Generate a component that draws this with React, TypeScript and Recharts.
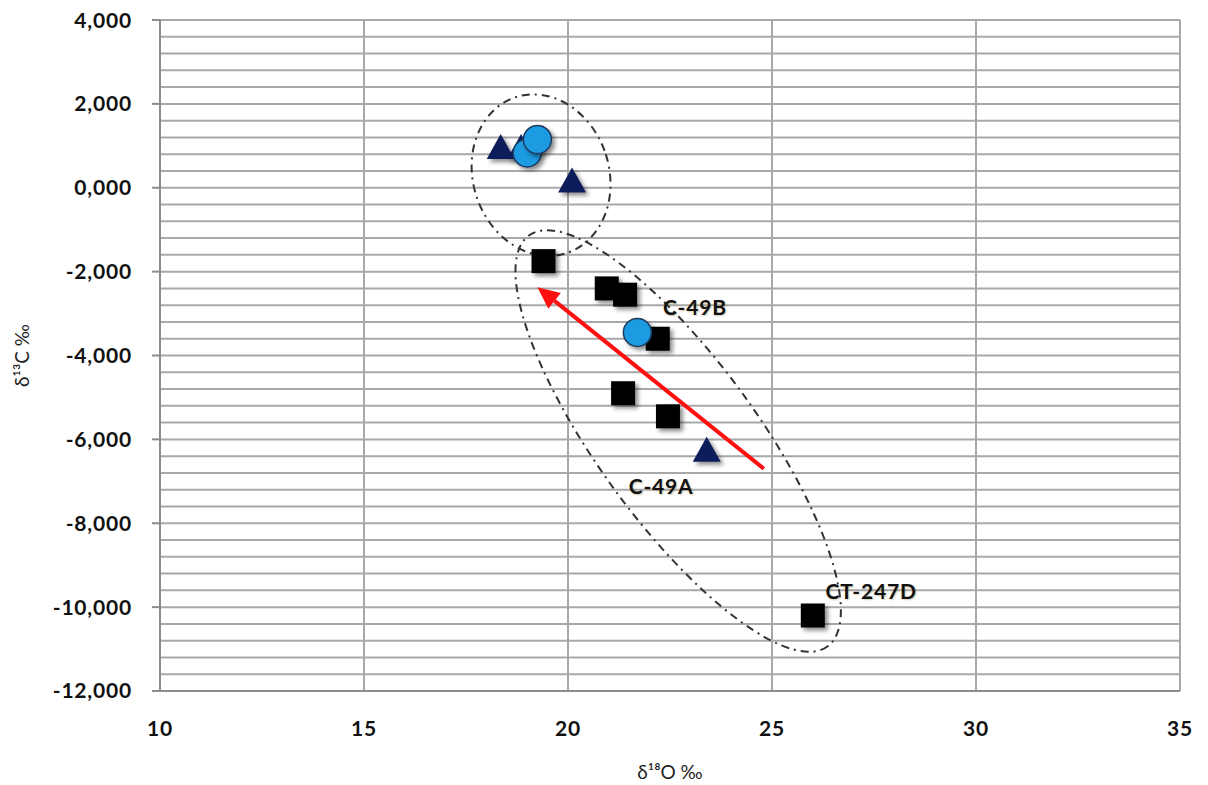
import React from "react";
import {
  CartesianGrid,
  ReferenceDot,
  ReferenceLine,
  Scatter,
  ScatterChart,
  XAxis,
  YAxis,
} from "recharts";

// δ18O / δ13C pairs, grouped by marker type
const squareSamples = [
  { x: 19.4, y: -1.75 },
  { x: 20.95, y: -2.4 },
  { x: 21.4, y: -2.55 },
  { x: 22.2, y: -3.6 },
  { x: 21.35, y: -4.9 },
  { x: 22.45, y: -5.45 },
  { x: 26.0, y: -10.2 },
];
const triangleSamples = [
  { x: 18.35, y: 0.97 },
  { x: 18.85, y: 0.97 },
  { x: 20.1, y: 0.17 },
  { x: 23.4, y: -6.25 },
];
const circleSamples = [
  { x: 19.0, y: 0.83 },
  { x: 19.25, y: 1.15 },
  { x: 21.7, y: -3.45 },
];

const xTicks = [10, 15, 20, 25, 30, 35];
const yTicks = [-12, -10, -8, -6, -4, -2, 0, 2, 4];
const Y_MIN = -12;
const Y_MAX = 4;
// minor horizontal grid every 0.4 ‰
const yGrid = Array.from({ length: 41 }, (_, i) => Y_MIN + i * 0.4);

const sampleLabels = [
  { x: 23.11, y: -2.82, text: "C-49B" },
  { x: 22.28, y: -7.11, text: "C-49A" },
  { x: 27.43, y: -9.61, text: "CT-247D" },
];

// trend arrow, tail -> head
const trendArrow = [
  { x: 24.8, y: -6.7 },
  { x: 19.25, y: -2.37 },
];

const FONT = "Lato, 'Open Sans', sans-serif";
const fmt = (v: number) => v.toFixed(3).replace(".", ",");

const SquareMark = (p: any) => (
  <rect x={p.cx - 12} y={p.cy - 12} width={24} height={24} fill="#000" filter="url(#mk-shadow)" />
);
const TriangleMark = (p: any) => (
  <polygon
    points={`${p.cx},${p.cy - 13} ${p.cx + 14},${p.cy + 12} ${p.cx - 14},${p.cy + 12}`}
    fill="#0f1f5a"
    filter="url(#mk-shadow)"
  />
);
const CircleMark = (p: any) => (
  <circle cx={p.cx} cy={p.cy} r={14} fill="#1e9be3" stroke="#1b3a5e" strokeWidth={1.5} filter="url(#mk-shadow)" />
);

const Arrow = (p: any) => {
  const { x1, y1, x2, y2 } = p;
  const ang = Math.atan2(y2 - y1, x2 - x1);
  const len = 22;
  const half = 10;
  const bx = x2 - len * Math.cos(ang);
  const by = y2 - len * Math.sin(ang);
  const nx = -Math.sin(ang) * half;
  const ny = Math.cos(ang) * half;
  return (
    <g>
      <line x1={x1} y1={y1} x2={bx} y2={by} stroke="#ff1010" strokeWidth={4} />
      <polygon points={`${x2},${y2} ${bx + nx},${by + ny} ${bx - nx},${by - ny}`} fill="#ff1010" />
    </g>
  );
};

const Envelope = (rx: number, ry: number, rot: number) => (p: any) => (
  <ellipse
    cx={p.cx}
    cy={p.cy}
    rx={rx}
    ry={ry}
    transform={`rotate(${rot} ${p.cx} ${p.cy})`}
    fill="none"
    stroke="#333"
    strokeWidth={2}
    strokeDasharray="8 5 2 5"
  />
);

const TextMark = (text: string) => (p: any) => (
  <text
    x={p.cx}
    y={p.cy}
    textAnchor="middle"
    dominantBaseline="central"
    fontFamily={FONT}
    fontWeight={700}
    fontSize={21}
    letterSpacing={0.8}
    fill="#111"
    style={{ textShadow: "1px 1px 2px rgba(120,100,20,0.35)" }}
  >
    {text}
  </text>
);

// pixel rows for the 0.4 ‰ grid lines
const gridRows = ({ offset }: any) =>
  yGrid.map((v) => offset.top + (offset.height * (Y_MAX - v)) / (Y_MAX - Y_MIN));

export default function App() {
  return (
    <div style={{ width: 1192, height: 777, background: "#fff" }}>
      <svg width={0} height={0} style={{ position: "absolute" }}>
        <defs>
          <filter id="mk-shadow" x="-40%" y="-40%" width="190%" height="190%">
            <feDropShadow dx={3} dy={3} stdDeviation={2.2} floodColor="#000" floodOpacity={0.45} />
          </filter>
        </defs>
      </svg>
      <ScatterChart width={1192} height={777} margin={{ top: 12, right: 20, bottom: 4, left: 0 }}>
        <CartesianGrid
          horizontalCoordinatesGenerator={gridRows}
          verticalValues={xTicks}
          stroke="#a8a8a8"
          strokeWidth={2}
        />
        <XAxis
          type="number"
          dataKey="x"
          domain={[10, 35]}
          ticks={xTicks}
          allowDataOverflow
          height={90}
          tickLine={false}
          tickMargin={24}
          axisLine={{ stroke: "#8c8c8c", strokeWidth: 2 }}
          tick={{ fontFamily: FONT, fontWeight: 700, fontSize: 21, fill: "#111", letterSpacing: 0.8 }}
          label={{
            value: "δ¹⁸O ‰",
            position: "insideBottom",
            offset: 2,
            style: { fontFamily: FONT, fontSize: 19, fill: "#222" },
          }}
        />
        <YAxis
          type="number"
          dataKey="y"
          domain={[Y_MIN, Y_MAX]}
          ticks={yTicks}
          allowDataOverflow
          width={152}
          tickSize={8}
          tickMargin={20}
          tickFormatter={fmt}
          tickLine={{ stroke: "#8c8c8c", strokeWidth: 2 }}
          axisLine={{ stroke: "#8c8c8c", strokeWidth: 2 }}
          tick={{ fontFamily: FONT, fontWeight: 700, fontSize: 21, fill: "#111", letterSpacing: 0.8 }}
          label={{
            value: "δ¹³C ‰",
            angle: -90,
            position: "insideLeft",
            offset: 14,
            style: { fontFamily: FONT, fontSize: 19, fill: "#222", textAnchor: "middle" },
          }}
        />
        <ReferenceDot x={19.34} y={0.3} r={0} shape={Envelope(68, 82, -18)} />
        <ReferenceDot x={22.7} y={-6.04} r={0} shape={Envelope(254, 80, 54)} />
        <Scatter data={squareSamples} shape={SquareMark} isAnimationActive={false} />
        <Scatter data={triangleSamples} shape={TriangleMark} isAnimationActive={false} />
        <Scatter data={circleSamples} shape={CircleMark} isAnimationActive={false} />
        <ReferenceLine segment={trendArrow} shape={Arrow} />
        {sampleLabels.map((l) => (
          <ReferenceDot key={l.text} x={l.x} y={l.y} r={0} shape={TextMark(l.text)} />
        ))}
      </ScatterChart>
    </div>
  );
}
